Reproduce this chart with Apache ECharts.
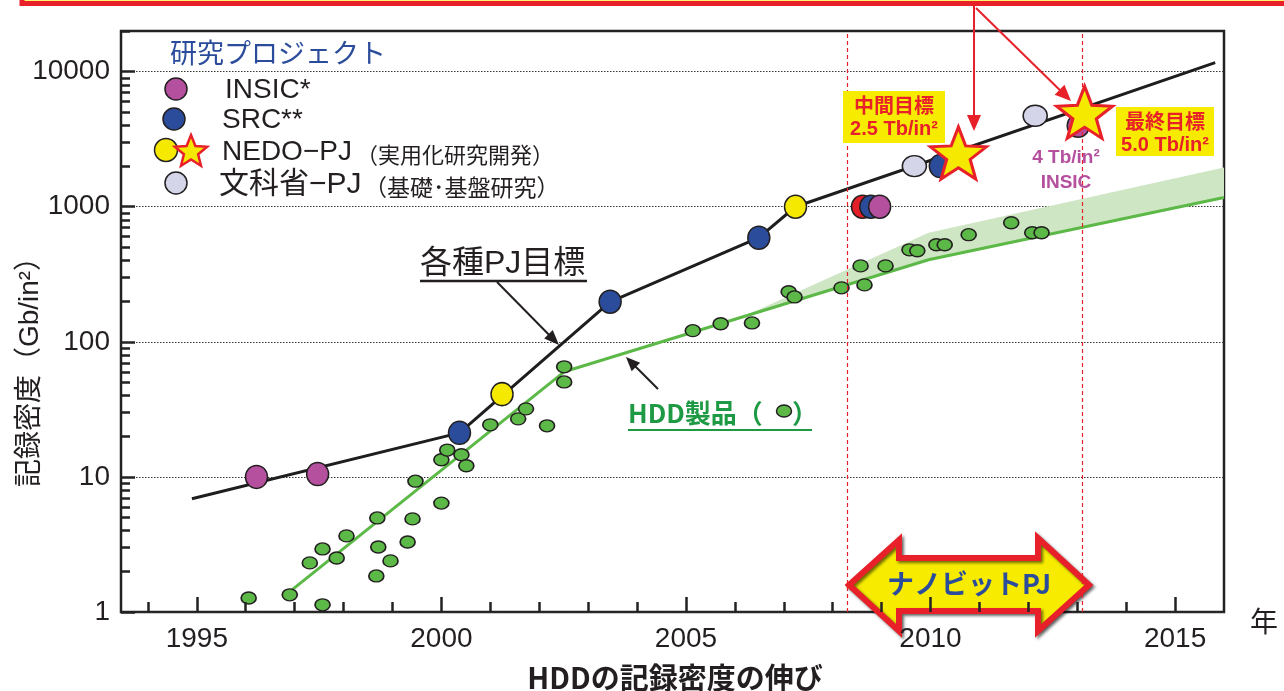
<!DOCTYPE html>
<html>
<head>
<meta charset="utf-8">
<script src="https://cdn.jsdelivr.net/npm/echarts@6/dist/echarts.min.js"></script>
<style>
  html, body { margin: 0; padding: 0; background: #fff; }
  #chart { width: 1284px; height: 691px; }
</style>
</head>
<body>
<div id="chart"></div>
<script>
// ---- axis ranges and tick values ----
const X_MIN = 1993.45, X_MAX = 2016.0;
const Y_MIN = 1, Y_MAX = 20000;
const yearMajor = [1995, 2000, 2005, 2010, 2015];
const yearMinor = [1994, 1995, 1996, 1997, 1998, 1999, 2000, 2001, 2002, 2003, 2004, 2005,
                   2006, 2007, 2008, 2009, 2010, 2011, 2012, 2013, 2014, 2015];
const densityMajor = [1, 10, 100, 1000, 10000];
const densityMinor = [2, 3, 4, 5, 6, 7, 8, 9, 20, 30, 40, 50, 60, 70, 80, 90,
                      200, 300, 400, 500, 600, 700, 800, 900,
                      2000, 3000, 4000, 5000, 6000, 7000, 8000, 9000, 20000];

// ---- project targets [year, Gb/in2] ----
const insicTargets = [[1996.22, 10], [1997.47, 10.5], [2008.96, 1000], [2013.02, 3980]];
const srcTargets   = [[2000.37, 21.2], [2003.45, 198], [2006.49, 590], [2008.78, 1000], [2010.2, 2000]];
const nedoTargets  = [[2001.24, 41], [2007.24, 1000]];
const mextTargets  = [[2009.67, 2000], [2012.14, 4720]];
const otherTargets = [[2008.61, 1000]];
const nanobitGoals = [[2010.57, 2500], [2013.15, 5000]];
const phaseBounds  = [2008.3, 2013.1];

// ---- trend of project targets ----
const targetTrend = [[1994.9, 6.9], [2000.37, 21.2], [2003.45, 198], [2006.49, 590], [2007.24, 1000], [2015.82, 11660]];

// ---- HDD products ----
const hddProducts = [
  [1996.06, 1.27], [1996.90, 1.34], [1997.57, 1.13], [1997.31, 2.31], [1997.57, 2.93],
  [1997.86, 2.51], [1998.06, 3.66], [1998.69, 4.97], [1998.71, 3.03], [1998.67, 1.85],
  [1998.96, 2.39], [1999.41, 4.89], [1999.31, 3.30], [1999.47, 9.3],  [2000.0, 6.4],
  [2000.0, 13.4],  [2000.12, 15.8], [2000.41, 14.6], [2000.51, 12.1], [2001.0, 24.3],
  [2001.57, 26.9], [2001.73, 31.9], [2002.16, 23.9], [2002.51, 50.5], [2002.51, 65.3],
  [2005.14, 121],  [2005.71, 136],  [2006.35, 138],  [2007.10, 235],  [2007.22, 215],
  [2008.18, 251],  [2008.57, 365],  [2008.65, 264],  [2009.08, 365],  [2009.57, 480],
  [2009.73, 472],  [2010.12, 523],  [2010.29, 523],  [2010.78, 621],  [2011.65, 761],
  [2012.08, 642],  [2012.27, 642]
];
const hddTrend     = [[1996.76, 1.29], [2002.51, 60], [2009.96, 405], [2016.0, 1170]];
const hddBandUpper = [[2006.14, 152], [2009.96, 642], [2016.0, 1950]];

// ---- styling ----
const NUM_FONT = '"Liberation Sans", Arial, sans-serif';
const JP_FONT = '"Liberation Sans", "Noto Sans CJK JP", sans-serif';
const JP_ONLY = '"Noto Sans CJK JP", sans-serif';
const INK = '#231f20';
const C_INSIC = '#b5509f', C_SRC = '#2b4c9b', C_NEDO = '#f5e900', C_MEXT = '#d5d5ea', C_RED = '#e3202a';
const C_GREEN = '#5cb947';
const STAR = 'path://M50,2 L62.34,35.01 L97.55,36.55 L69.97,58.49 L79.39,92.45 L50,73 L20.61,92.45 L30.03,58.49 L2.45,36.55 L37.66,35.01 Z';

function arrow(x1, y1, x2, y2, color, width, headLen, headHalf, z) {
  const dx = x2 - x1, dy = y2 - y1, L = Math.hypot(dx, dy), ux = dx / L, uy = dy / L;
  const bx = x2 - ux * headLen, by = y2 - uy * headLen;
  return [
    { type: 'line', z: z, shape: { x1: x1, y1: y1, x2: bx + ux, y2: by + uy }, style: { stroke: color, lineWidth: width } },
    { type: 'polygon', z: z, shape: { points: [[x2, y2], [bx - uy * headHalf, by + ux * headHalf], [bx + uy * headHalf, by - ux * headHalf]] }, style: { fill: color } }
  ];
}
function starPoints(cx, cy, R, r) {
  const pts = [];
  for (let i = 0; i < 10; i++) {
    const a = -Math.PI / 2 + i * Math.PI / 5;
    const rad = i % 2 === 0 ? R : r;
    pts.push([cx + rad * Math.cos(a), cy + rad * Math.sin(a)]);
  }
  return pts;
}
function dot(cx, cy, rx, ry, fill, z) {
  return { type: 'ellipse', z: z, shape: { cx: cx, cy: cy, rx: rx, ry: ry }, style: { fill: fill, stroke: INK, lineWidth: 1.5 } };
}
function txt(x, y, text, font, fill, align, z, extra) {
  return Object.assign({ type: 'text', z: z || 20, x: x, y: y,
    style: { text: text, font: font, fill: fill, align: align || 'left', verticalAlign: 'middle' } }, extra || {});
}

function scatter(name, data, color, size, z) {
  return {
    name: name, type: 'scatter', data: data, symbol: 'circle', symbolSize: size, z: z,
    itemStyle: { color: color, borderColor: INK, borderWidth: 1.5, opacity: 1 },
    emphasis: { disabled: true }, silent: true
  };
}

const graphics = [];
// banner frame along the top edge
graphics.push({ type: 'rect', z: 20, shape: { x: 22, y: -40, width: 1300, height: 43.5 }, style: { fill: '#fff36b', stroke: '#e8202a', lineWidth: 5 } });
// pointers from the banner to the goals
graphics.push.apply(graphics, arrow(974, 5, 974, 131, '#e8202a', 2, 16, 7, 21));
graphics.push.apply(graphics, arrow(976, 8, 1071, 101, '#e8202a', 2, 16, 7, 21));

// project key
graphics.push(txt(170, 53, '研究プロジェクト', '27px ' + JP_ONLY, C_SRC));
graphics.push(dot(176, 89, 11, 11, C_INSIC, 20));
graphics.push(txt(225, 90, 'INSIC*', '28px ' + JP_FONT, INK));
graphics.push(dot(174, 119, 11, 11, C_SRC, 20));
graphics.push(txt(222, 120, 'SRC**', '28px ' + JP_FONT, INK));
graphics.push(dot(166, 150, 11.5, 11.5, C_NEDO, 20));
graphics.push({ type: 'polygon', z: 21, shape: { points: starPoints(191, 152, 17, 7.5) }, style: { fill: C_NEDO, stroke: '#e8202a', lineWidth: 2.5, lineJoin: 'miter' } });
graphics.push(txt(222, 152, 'NEDO−PJ', '28px ' + JP_FONT, INK));
graphics.push(txt(356, 155, '（実用化研究開発）', '22px ' + JP_ONLY, INK));
graphics.push(dot(176, 183, 11, 11, C_MEXT, 20));
graphics.push(txt(219, 185, '文科省−PJ', '30px ' + JP_FONT, INK));
graphics.push(txt(364, 187, '（基礎･基盤研究）', '23px ' + JP_ONLY, INK));

// callouts
graphics.push(txt(420, 264, '各種PJ目標', '32px ' + JP_FONT, INK));
graphics.push({ type: 'line', z: 20, shape: { x1: 420, y1: 281, x2: 587, y2: 281 }, style: { stroke: INK, lineWidth: 2.5 } });
graphics.push.apply(graphics, arrow(497, 282, 559, 345, INK, 2, 15, 6, 20));

graphics.push(txt(628, 413, 'HDD製品（', 'bold 26px ' + JP_ONLY, '#1f9a44'));
graphics.push(dot(784, 411, 7.5, 6, C_GREEN, 20));
graphics.push(txt(792, 413, '）', 'bold 26px ' + JP_ONLY, '#1f9a44'));
graphics.push({ type: 'line', z: 20, shape: { x1: 628, y1: 430, x2: 812, y2: 430 }, style: { stroke: '#1f9a44', lineWidth: 2 } });
graphics.push.apply(graphics, arrow(658, 389, 626, 357, INK, 2, 14, 6, 20));

graphics.push({ type: 'rect', z: 20, shape: { x: 843, y: 91, width: 102, height: 52 }, style: { fill: '#f7ec00' } });
graphics.push(txt(894, 105, '中間目標', 'bold 20px ' + JP_ONLY, '#e8202a', 'center'));
graphics.push(txt(894, 129, '2.5 Tb/in²', 'bold 20px ' + JP_FONT, '#e8202a', 'center'));
graphics.push({ type: 'rect', z: 20, shape: { x: 1116, y: 107, width: 98, height: 49 }, style: { fill: '#f7ec00' } });
graphics.push(txt(1165, 121, '最終目標', 'bold 20px ' + JP_ONLY, '#e8202a', 'center'));
graphics.push(txt(1165, 145, '5.0 Tb/in²', 'bold 20px ' + JP_FONT, '#e8202a', 'center'));
graphics.push(txt(1066, 158, '4 Tb/in²', 'bold 19px ' + JP_FONT, C_INSIC, 'center'));
graphics.push(txt(1066, 183, 'INSIC', 'bold 19px ' + JP_FONT, C_INSIC, 'center'));

// project period double arrow
graphics.push({ type: 'polygon', z: 5,
  shape: { points: [[849, 585], [899, 540], [899, 558], [1038, 558], [1038, 538], [1089, 585], [1038, 631], [1038, 611], [899, 611], [899, 631]] },
  style: { fill: '#f7ec00', stroke: '#e8202a', lineWidth: 6, lineJoin: 'miter',
           shadowBlur: 3, shadowColor: 'rgba(0,0,0,0.55)', shadowOffsetX: 2, shadowOffsetY: 2 } });
graphics.push(txt(969, 584, 'ナノビットPJ', 'bold 27px ' + JP_ONLY, C_SRC, 'center', 6));

// axis titles
graphics.push(txt(675, 678, 'HDDの記録密度の伸び', 'bold 29px ' + JP_ONLY, INK, 'center'));
graphics.push(txt(1264, 621, '年', '28px ' + JP_ONLY, INK, 'center'));
graphics.push(txt(30, 365, '記録密度（Gb/in²）', '28px ' + JP_FONT, INK, 'center', 20, { rotation: Math.PI / 2 }));

const tickStyle = { color: '#222', width: 2.5 };
const labelStyle = { fontFamily: NUM_FONT, fontSize: 28, color: INK };

const option = {
  animation: false,
  backgroundColor: '#fff',
  grid: { left: 121, right: 60, top: 31, bottom: 79, show: true, borderColor: '#222', borderWidth: 2.5, backgroundColor: 'transparent' },
  xAxis: [
    { type: 'value', position: 'bottom', min: X_MIN, max: X_MAX, z: 10,
      axisLine: { show: false }, splitLine: { show: false },
      axisTick: { inside: true, length: 15, customValues: yearMajor, lineStyle: tickStyle },
      axisLabel: Object.assign({ customValues: yearMajor, margin: 13, formatter: v => String(v) }, labelStyle) },
    { type: 'value', position: 'bottom', min: X_MIN, max: X_MAX, z: 10,
      axisLine: { show: false }, splitLine: { show: false },
      axisTick: { inside: true, length: 10, customValues: yearMinor, lineStyle: tickStyle },
      axisLabel: { show: false } }
  ],
  yAxis: [
    { type: 'log', position: 'left', logBase: 10, min: Y_MIN, max: Y_MAX,
      axisLine: { show: false },
      splitLine: { show: true, lineStyle: { type: [1.5, 1.5], color: '#333', width: 1 } },
      axisTick: { inside: true, length: 14, customValues: densityMajor, lineStyle: tickStyle },
      axisLabel: Object.assign({ customValues: densityMajor, margin: 11, formatter: v => String(Math.round(v)) }, labelStyle) },
    { type: 'log', position: 'left', logBase: 10, min: Y_MIN, max: Y_MAX,
      axisLine: { show: false }, splitLine: { show: false },
      axisTick: { inside: true, length: 9, customValues: densityMinor, lineStyle: tickStyle },
      axisLabel: { show: false } }
  ],
  graphic: { elements: graphics },
  series: [
    { name: 'HDD範囲', type: 'custom', z: 1, silent: true,
      data: [hddBandUpper[0]],
      renderItem: function (params, api) {
        const poly = hddBandUpper.concat(hddTrend.slice(1).reverse().concat([hddBandUpper[0]]));
        return { type: 'polygon', shape: { points: poly.map(p => api.coord(p)) }, style: { fill: '#cfe6c4' } };
      } },
    { name: 'HDD製品トレンド', type: 'line', data: hddTrend, showSymbol: false, z: 2, silent: true,
      lineStyle: { color: C_GREEN, width: 3 } },
    { name: '各種PJ目標', type: 'line', data: targetTrend, showSymbol: false, z: 2, silent: true,
      lineStyle: { color: '#1e1e1e', width: 3 },
      markLine: { silent: true, symbol: ['none', 'none'], label: { show: false },
        lineStyle: { color: '#e8202a', type: [4, 3], width: 1.2 },
        data: phaseBounds.map(x => ({ xAxis: x })) } },
    scatter('HDD製品', hddProducts, C_GREEN, [15, 12], 3),
    scatter('その他', otherTargets, C_RED, [22, 23], 4),
    scatter('SRC', srcTargets, C_SRC, [22, 23], 4),
    scatter('INSIC', insicTargets, C_INSIC, [22, 23], 4),
    scatter('NEDO-PJ', nedoTargets, C_NEDO, [22, 23], 4),
    scatter('文科省-PJ', mextTargets, C_MEXT, [24, 21], 4),
    { name: 'ナノビットPJ目標', type: 'scatter', data: nanobitGoals, symbol: STAR, symbolSize: [56, 52], z: 5, silent: true,
      emphasis: { disabled: true },
      itemStyle: { color: C_NEDO, borderColor: '#e8202a', borderWidth: 3, opacity: 1 } }
  ]
};

const chart = echarts.init(document.getElementById('chart'), null, { renderer: 'canvas' });
chart.setOption(option);
</script>
</body>
</html>
